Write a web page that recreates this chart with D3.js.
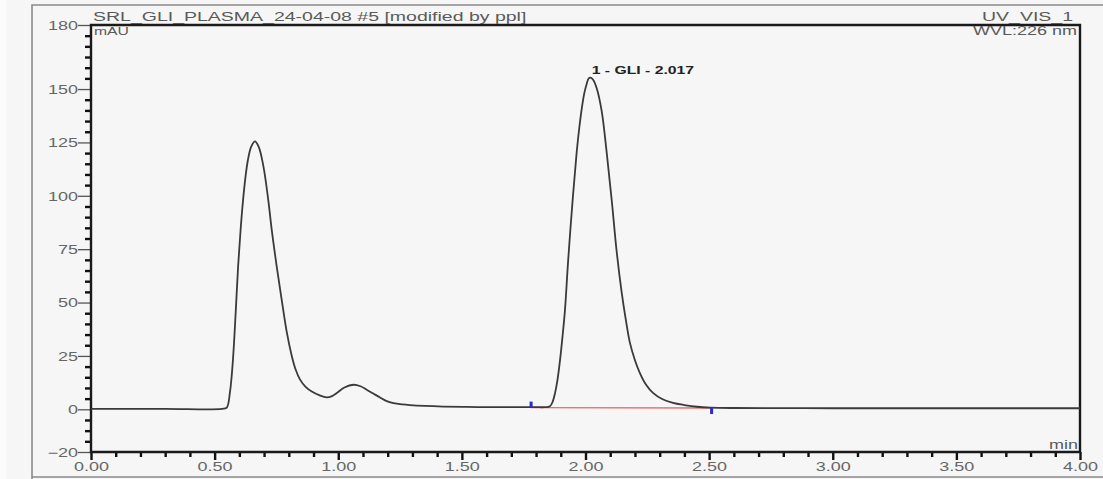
<!DOCTYPE html>
<html>
<head>
<meta charset="utf-8">
<script src="https://cdn.jsdelivr.net/npm/d3@7"></script>
<style>
  html, body { margin: 0; padding: 0; background: #f6f6f6; }
  svg { display: block; }
  text { font-family: "Liberation Sans", Arial, sans-serif; }
</style>
</head>
<body>
<svg id="chart" width="1103" height="479"></svg>
<script>
// ---- data ----
const time = [0.00, 0.30, 0.53, 0.549, 0.562, 0.574, 0.585, 0.595, 0.605, 0.615, 0.625, 0.635, 0.648, 0.663, 0.678, 0.697, 0.717, 0.731, 0.751, 0.771, 0.792, 0.812, 0.828, 0.845, 0.868, 0.893, 0.925, 0.953, 0.975, 0.994, 1.025, 1.061, 1.09, 1.115, 1.14, 1.169, 1.196, 1.223, 1.26, 1.29, 1.35, 1.424, 1.52, 1.626, 1.70, 1.762, 1.80, 1.835, 1.856, 1.867, 1.877, 1.887, 1.897, 1.907, 1.917, 1.930, 1.948, 1.964, 1.975, 1.985, 1.995, 2.005, 2.013, 2.021, 2.030, 2.045, 2.065, 2.086, 2.106, 2.126, 2.146, 2.163, 2.18, 2.20, 2.22, 2.245, 2.273, 2.31, 2.354, 2.40, 2.451, 2.504, 2.60, 3.00, 3.50, 4.00];
const absorbance = [0.2, 0.2, 0.2, 0.8, 8, 23, 45, 67, 84, 98, 109, 117, 123, 125.5, 123, 114, 98, 84, 67, 51.5, 36, 25, 18.5, 14, 10.5, 8.3, 6.5, 5.6, 6.2, 7.6, 10.2, 11.5, 10.8, 9.2, 7.5, 5.5, 3.8, 2.9, 2.3, 2.0, 1.6, 1.3, 1.1, 1.0, 1.0, 1.0, 1.0, 1.0, 1.4, 3.5, 7.7, 14, 23, 34, 46.6, 70, 98, 120, 132, 141, 148, 152.5, 155, 155.3, 154.5, 150.5, 140, 120, 98, 74, 55, 42, 31, 23, 17, 11.5, 7.7, 4.8, 3, 2, 1.2, 0.8, 0.6, 0.5, 0.5, 0.5];

const xMajorTicks = [0, 0.5, 1.0, 1.5, 2.0, 2.5, 3.0, 3.5, 4.0];
const xMinorTicks = [0.1,0.2,0.3,0.4,0.6,0.7,0.8,0.9,1.1,1.2,1.3,1.4,1.6,1.7,1.8,1.9,2.1,2.2,2.3,2.4,2.6,2.7,2.8,2.9,3.1,3.2,3.3,3.4,3.6,3.7,3.8,3.9];
const yMajorTicks = [-20, 0, 25, 50, 75, 100, 125, 150, 180];
const yMinorTicks = [-15,-10,-5,5,10,15,20,30,35,40,45,55,60,65,70,80,85,90,95,105,110,115,120,130,135,140,145,155,160,165,170,175];

const peakTimes = [2.021];
const peakValues = [155.3];
const peakLabels = ["1 - GLI - 2.017"];
const integrationTimes = [1.78, 2.51];
const integrationValues = [0.8, 0.6];

const titleText = "SRL_GLI_PLASMA_24-04-08 #5 [modified by ppl]";
const channelText = "UV_VIS_1";
const wavelengthText = "WVL:226 nm";
const yUnit = "mAU";
const xUnit = "min";

// ---- layout ----
const svg = d3.select("#chart");
const SX = 1.5; // horizontal stretch of the original raster text
const x = d3.scaleLinear().domain([0, 4]).range([91, 1080]);
const y = d3.scaleLinear().domain([-20, 180]).range([452, 25]);

// background and outer frame
svg.append("rect").attr("x", 0).attr("y", 0).attr("width", 1103).attr("height", 479).attr("fill", "#f6f6f6");
svg.append("rect").attr("x", 0).attr("y", 0).attr("width", 6).attr("height", 479).attr("fill", "#fbfbfb");
svg.append("path").attr("d", "M32,479 L32,5 L1103,5 M32,477 L1103,477")
  .attr("fill", "none").attr("stroke", "#8a8a8a").attr("stroke-width", 1.6);

function stretched(g, tx, ty, str, size, anchor, color, weight) {
  return g.append("text")
    .attr("transform", `translate(${tx},${ty}) scale(${SX},1)`)
    .attr("text-anchor", anchor)
    .attr("font-size", size)
    .attr("font-weight", weight || "normal")
    .attr("fill", color)
    .text(str);
}

// y axis minor ticks
const yMinor = svg.append("g").attr("transform", `translate(${x(0)},0)`)
  .call(d3.axisLeft(y).tickValues(yMinorTicks).tickSize(6).tickFormat(""));
yMinor.select(".domain").remove();
yMinor.selectAll("line").attr("stroke", "#111").attr("stroke-width", 2.4);

// y axis major ticks + labels
const yMajor = svg.append("g").attr("transform", `translate(${x(0)},0)`)
  .call(d3.axisLeft(y).tickValues(yMajorTicks).tickSize(13).tickFormat(d3.format("d")));
yMajor.select(".domain").remove();
yMajor.selectAll("line").attr("stroke", "#555").attr("stroke-width", 1.3);
yMajor.selectAll("text")
  .attr("x", null).attr("dy", null)
  .attr("transform", `translate(-13,4.3) scale(${SX},1)`)
  .attr("text-anchor", "end")
  .attr("font-size", 12)
  .attr("font-family", "Liberation Sans, Arial, sans-serif")
  .attr("fill", "#666");

// x axis minor ticks
const xMinor = svg.append("g").attr("transform", `translate(0,${y(-20)})`)
  .call(d3.axisBottom(x).tickValues(xMinorTicks).tickSize(5).tickFormat(""));
xMinor.select(".domain").remove();
xMinor.selectAll("line").attr("stroke", "#111").attr("stroke-width", 2.4);

// x axis major ticks + labels
const xMajor = svg.append("g").attr("transform", `translate(0,${y(-20)})`)
  .call(d3.axisBottom(x).tickValues(xMajorTicks).tickSize(8).tickFormat(d3.format(".2f")));
xMajor.select(".domain").remove();
xMajor.selectAll("line").attr("stroke", "#111").attr("stroke-width", 2.4);
xMajor.selectAll("text")
  .attr("y", null).attr("dy", null)
  .attr("transform", `translate(0,19) scale(${SX},1)`)
  .attr("text-anchor", "middle")
  .attr("font-size", 12)
  .attr("font-family", "Liberation Sans, Arial, sans-serif")
  .attr("fill", "#666");

// plot box (axes lines)
svg.append("path")
  .attr("d", `M${x(0)},${y(180)} L${x(4)},${y(180)} L${x(4)},${y(-20)} L${x(0)},${y(-20)} Z`)
  .attr("fill", "none").attr("stroke", "#1a1a1a").attr("stroke-width", 2.4);

// integration baseline
svg.append("line")
  .attr("x1", x(integrationTimes[0])).attr("y1", y(integrationValues[0]))
  .attr("x2", x(integrationTimes[1])).attr("y2", y(integrationValues[1]))
  .attr("stroke", "#f06a6a").attr("stroke-width", 1.4);

// chromatogram trace
const pts = time.map((t, i) => [t, absorbance[i]]);
svg.append("path")
  .datum(pts)
  .attr("d", d3.line().x(d => x(d[0])).y(d => y(d[1])).curve(d3.curveCatmullRom.alpha(0.5)))
  .attr("fill", "none").attr("stroke", "#3a3a3a").attr("stroke-width", 1.8);

// integration markers (start up, end down)
integrationTimes.forEach((t, i) => {
  const y0 = y(integrationValues[i]);
  svg.append("rect")
    .attr("x", x(t) - 1.5).attr("y", i === 0 ? y0 - 6 : y0)
    .attr("width", 3).attr("height", 6)
    .attr("fill", "#2a2ad0");
});

// peak label
peakTimes.forEach((t, i) => {
  stretched(svg, x(t) + 1, y(peakValues[i]) - 4, peakLabels[i], 10.5, "start", "#222", "bold");
});

// texts
stretched(svg, 93, 20.5, titleText, 13, "start", "#5a5a5a");
stretched(svg, 1073, 20.5, channelText, 13, "end", "#5a5a5a");
stretched(svg, 1077, 35, wavelengthText, 12, "end", "#5a5a5a");
stretched(svg, 94, 35, yUnit, 10.5, "start", "#5a5a5a");
stretched(svg, 1078, 449, xUnit, 12, "end", "#5a5a5a");
</script>
</body>
</html>
